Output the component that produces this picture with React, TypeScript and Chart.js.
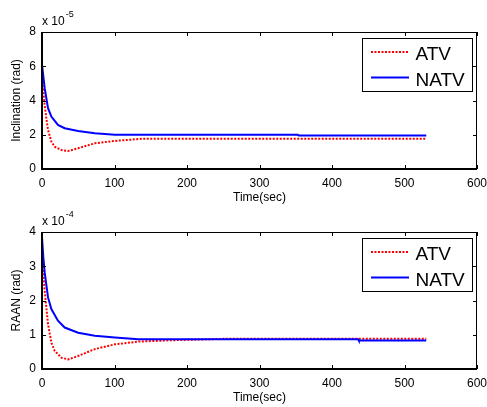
import React, { useEffect, useRef } from 'react';
import { Chart, registerables } from 'chart.js';

Chart.register(...registerables);

// ---- data (Inclination in units of 1e-5 rad, RAAN in units of 1e-4 rad) ----
const X_MIN = 0;
const X_MAX = 600;
const X_STEP = 100;

const INC_ATV_T = [0, 1.8, 3.7, 6, 8.3, 12.9, 17.5, 26.7, 36, 49.8, 72.8, 100.5, 137, 200, 300, 400, 530];
const INC_ATV_V = [5.3, 4.52, 3.74, 2.96, 2.28, 1.6, 1.3, 1.11, 1.05, 1.21, 1.5, 1.64, 1.76, 1.77, 1.77, 1.77, 1.77];
const INC_NATV_T = [0, 3.7, 8.3, 12.9, 22, 31.3, 49.8, 72.8, 100.5, 150, 353, 354, 530];
const INC_NATV_V = [6.1, 4.72, 3.55, 3.06, 2.57, 2.38, 2.22, 2.09, 2.0, 2.0, 2.0, 1.95, 1.95];

const RAAN_ATV_T = [0, 1.8, 3.7, 6, 8.3, 12.9, 17.5, 26.7, 36, 49.8, 72.8, 100.5, 133, 179, 250, 436, 530];
const RAAN_ATV_V = [3.3, 2.78, 2.29, 1.8, 1.31, 0.77, 0.53, 0.33, 0.28, 0.38, 0.58, 0.72, 0.8, 0.84, 0.88, 0.88, 0.88];
const RAAN_NATV_T = [0, 1.8, 3.7, 8.3, 12.9, 22, 31.3, 49.8, 72.8, 100.5, 133, 436, 437, 530];
const RAAN_NATV_V = [3.85, 3.26, 2.82, 2.09, 1.75, 1.41, 1.21, 1.06, 0.97, 0.92, 0.87, 0.87, 0.83, 0.83];

const SERIES_LABELS = ['ATV', 'NATV'];
const X_TITLE = 'Time(sec)';
const INC_TITLE = 'Inclination (rad)';
const RAAN_TITLE = 'RAAN (rad)';
const INC_Y_MAX = 8;
const INC_Y_STEP = 2;
const INC_EXP = '-5';
const RAAN_Y_MAX = 4;
const RAAN_Y_STEP = 1;
const RAAN_EXP = '-4';

// ---- layout ----
const FONT = '"Liberation Sans", Arial, Helvetica, sans-serif';
const W = 487;
const H = 207;
const AREA_LEFT = 42;
const AREA_RIGHT = 477;
const AREA_TOP = 32;
const AREA_BOTTOM = 169;

const pts = (t: number[], v: number[]) => t.map((x, i) => ({ x, y: v[i] }));

const framePlugin = {
  id: 'matlabFrame',
  afterDatasetsDraw(chart: any, _args: any, opts: any) {
    const { ctx, chartArea: a, scales } = chart;
    const x = scales.x;
    const y = scales.y;
    ctx.save();
    ctx.setLineDash([]);
    ctx.strokeStyle = '#000';
    ctx.lineWidth = 1;
    // inward ticks on all four sides
    x.ticks.forEach((t: any) => {
      const px = Math.round(x.getPixelForValue(t.value)) + 0.5;
      ctx.beginPath();
      ctx.moveTo(px, a.bottom);
      ctx.lineTo(px, a.bottom - 4);
      ctx.moveTo(px, a.top);
      ctx.lineTo(px, a.top + 4);
      ctx.stroke();
    });
    y.ticks.forEach((t: any) => {
      const py = Math.round(y.getPixelForValue(t.value)) + 0.5;
      ctx.beginPath();
      ctx.moveTo(a.left, py);
      ctx.lineTo(a.left + 4, py);
      ctx.moveTo(a.right, py);
      ctx.lineTo(a.right - 4, py);
      ctx.stroke();
    });
    // frame
    ctx.beginPath();
    ctx.moveTo(a.left, a.top + 0.5);
    ctx.lineTo(a.right, a.top + 0.5);
    ctx.moveTo(a.right - 0.5, a.top);
    ctx.lineTo(a.right - 0.5, a.bottom);
    ctx.stroke();
    ctx.lineWidth = 2;
    ctx.beginPath();
    ctx.moveTo(a.left, a.top);
    ctx.lineTo(a.left, a.bottom + 1);
    ctx.moveTo(a.left - 1, a.bottom);
    ctx.lineTo(a.right, a.bottom);
    ctx.stroke();

    // exponent label
    ctx.fillStyle = '#000';
    ctx.textBaseline = 'alphabetic';
    ctx.textAlign = 'left';
    ctx.font = `12px ${FONT}`;
    const base = 'x 10';
    ctx.fillText(base, a.left, a.top - 7);
    const bw = ctx.measureText(base).width;
    ctx.font = `9px ${FONT}`;
    ctx.fillText(opts.exponent, a.left + bw + 1, a.top - 15);

    // legend
    const bx = a.right - 115;
    const by = a.top + 6;
    const bwid = 110;
    const bh = 53;
    ctx.fillStyle = '#fff';
    ctx.fillRect(bx, by, bwid, bh);
    ctx.lineWidth = 1;
    ctx.strokeStyle = '#000';
    ctx.strokeRect(bx + 0.5, by + 0.5, bwid, bh);
    const dsList = chart.data.datasets;
    dsList.forEach((ds: any, i: number) => {
      const ly = by + 14 + i * 25.6;
      ctx.save();
      ctx.strokeStyle = ds.borderColor;
      ctx.lineWidth = ds.borderWidth;
      ctx.setLineDash(ds.borderDash || []);
      ctx.beginPath();
      ctx.moveTo(bx + 9, ly);
      ctx.lineTo(bx + 47, ly);
      ctx.stroke();
      ctx.restore();
      ctx.fillStyle = '#000';
      ctx.font = `19px ${FONT}`;
      ctx.fillText(ds.label, bx + 53.5, by + 22 + i * 26);
    });
    ctx.restore();
  },
};

type PanelProps = {
  top: number;
  yTitle: string;
  yMax: number;
  yStep: number;
  exponent: string;
  atv: { x: number; y: number }[];
  natv: { x: number; y: number }[];
};

function Panel({ top, yTitle, yMax, yStep, exponent, atv, natv }: PanelProps) {
  const ref = useRef<HTMLCanvasElement | null>(null);
  useEffect(() => {
    if (!ref.current) return;
    const tickFont = { family: FONT, size: 12 };
    const chart = new Chart(ref.current, {
      type: 'scatter',
      data: {
        datasets: [
          {
            label: SERIES_LABELS[0],
            data: atv,
            showLine: true,
            borderColor: '#ff0000',
            backgroundColor: '#ff0000',
            borderWidth: 2,
            borderDash: [2, 1.5],
            pointRadius: 0,
            order: 2,
          },
          {
            label: SERIES_LABELS[1],
            data: natv,
            showLine: true,
            borderColor: '#0000ff',
            backgroundColor: '#0000ff',
            borderWidth: 2,
            pointRadius: 0,
            order: 1,
          },
        ],
      },
      options: {
        responsive: false,
        animation: false,
        devicePixelRatio: 1,
        layout: { padding: { left: 0, right: W - AREA_RIGHT, top: AREA_TOP, bottom: 0 } },
        plugins: {
          legend: { display: false },
          tooltip: { enabled: false },
          matlabFrame: { exponent },
        } as any,
        scales: {
          x: {
            type: 'linear',
            min: X_MIN,
            max: X_MAX,
            afterFit: (s: any) => {
              s.height = H - AREA_BOTTOM;
              s.paddingLeft = 0;
              s.paddingRight = 0;
            },
            grid: { display: false, drawTicks: false },
            border: { display: false },
            ticks: {
              stepSize: X_STEP,
              color: '#000',
              font: tickFont,
              padding: 7,
              maxRotation: 0,
              autoSkip: false,
            },
            title: {
              display: true,
              text: X_TITLE,
              color: '#000',
              font: tickFont,
              padding: { top: 0, bottom: 2.3 },
            },
          },
          y: {
            type: 'linear',
            min: 0,
            max: yMax,
            afterFit: (s: any) => {
              s.width = AREA_LEFT;
              s.paddingTop = 0;
              s.paddingBottom = 0;
            },
            grid: { display: false, drawTicks: false },
            border: { display: false },
            ticks: {
              stepSize: yStep,
              color: '#000',
              font: tickFont,
              padding: 6,
            },
            title: {
              display: true,
              text: yTitle,
              color: '#000',
              font: tickFont,
              padding: { top: 9.5, bottom: 0 },
            },
          },
        },
      } as any,
      plugins: [framePlugin],
    });
    return () => chart.destroy();
  }, []);
  return (
    <canvas
      ref={ref}
      width={W}
      height={H}
      style={{ position: 'absolute', left: 0, top, width: W, height: H }}
    />
  );
}

export default function App() {
  return (
    <div style={{ position: 'absolute', left: 0, top: 0, width: W, height: 407, background: '#fff' }}>
      <Panel
        top={0}
        yTitle={INC_TITLE}
        yMax={INC_Y_MAX}
        yStep={INC_Y_STEP}
        exponent={INC_EXP}
        atv={pts(INC_ATV_T, INC_ATV_V)}
        natv={pts(INC_NATV_T, INC_NATV_V)}
      />
      <Panel
        top={200}
        yTitle={RAAN_TITLE}
        yMax={RAAN_Y_MAX}
        yStep={RAAN_Y_STEP}
        exponent={RAAN_EXP}
        atv={pts(RAAN_ATV_T, RAAN_ATV_V)}
        natv={pts(RAAN_NATV_T, RAAN_NATV_V)}
      />
    </div>
  );
}
